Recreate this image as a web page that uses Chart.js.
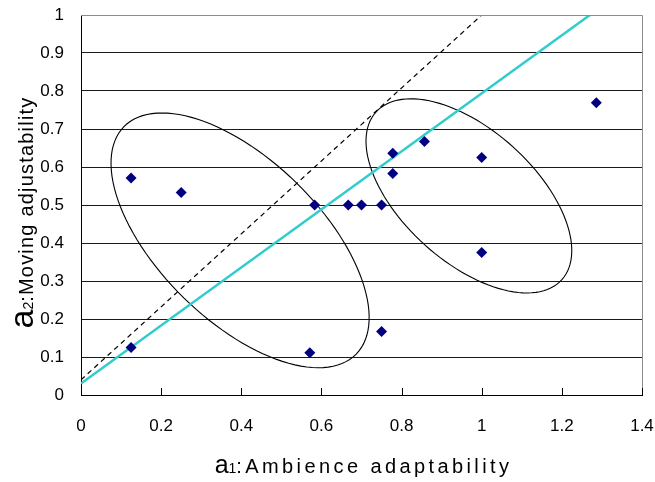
<!DOCTYPE html>
<html>
<head>
<meta charset="utf-8">
<script src="https://cdn.jsdelivr.net/npm/chart.js@4.4.1/dist/chart.umd.min.js"></script>
<style>
  html, body { margin: 0; padding: 0; background: #fff; }
</style>
</head>
<body>
<canvas id="chart" width="655" height="482"></canvas>
<script>
// ---- data ----
const ambienceX = [0.125, 0.25, 0.125, 0.571, 0.583, 0.667, 0.7, 0.75, 0.75, 0.778, 0.778, 0.857, 1.0, 1.0, 1.286];
const movingY   = [0.571, 0.533, 0.125, 0.111, 0.5, 0.5, 0.5, 0.5, 0.167, 0.636, 0.583, 0.667, 0.625, 0.375, 0.769];

const xTickValues = [0, 0.2, 0.4, 0.6, 0.8, 1, 1.2, 1.4];
const yTickValues = [0, 0.1, 0.2, 0.3, 0.4, 0.5, 0.6, 0.7, 0.8, 0.9, 1];

// regression line (cyan) and reference line (dashed), end points
const fitLineX = [0, 1.27];
const fitLineY = [0.03, 1.0];
const refLineX = [0, 1.0];
const refLineY = [0.04, 1.0];

// group ellipses: centre and two conjugate half-axes, all in data units
const groupCentreX = [0.397, 0.968];
const groupCentreY = [0.407, 0.524];
const groupMajorX  = [0.2898, 0.232];
const groupMajorY  = [-0.2992, -0.2205];
const groupMinorX  = [0.1406, 0.110];
const groupMinorY  = [0.1513, 0.129];

const toPoints = (xs, ys) => xs.map((x, i) => ({ x: x, y: ys[i] }));

// ellipses drawn under the data, through the chart's own scales
const ellipsePlugin = {
    id: 'groupEllipses',
    beforeDatasetsDraw(chart) {
        const { ctx, scales: { x, y } } = chart;
        ctx.save();
        ctx.strokeStyle = '#000';
        ctx.lineWidth = 1.1;
        for (let k = 0; k < groupCentreX.length; k++) {
            ctx.beginPath();
            for (let s = 0; s <= 120; s++) {
                const t = s / 120 * Math.PI * 2;
                const dx = groupCentreX[k] + groupMajorX[k] * Math.cos(t) + groupMinorX[k] * Math.sin(t);
                const dy = groupCentreY[k] + groupMajorY[k] * Math.cos(t) + groupMinorY[k] * Math.sin(t);
                const px = x.getPixelForValue(dx);
                const py = y.getPixelForValue(dy);
                if (s === 0) ctx.moveTo(px, py); else ctx.lineTo(px, py);
            }
            ctx.closePath();
            ctx.stroke();
        }
        ctx.restore();
    }
};

// frame, inner x tick marks and the two axis titles
const framePlugin = {
    id: 'frameAndTitles',
    afterDraw(chart) {
        const { ctx, chartArea: a, scales: { x } } = chart;
        ctx.save();

        // grey top / right frame
        ctx.strokeStyle = '#8c8c8c';
        ctx.lineWidth = 1;
        ctx.beginPath();
        ctx.moveTo(a.left, a.top + 0.5);
        ctx.lineTo(a.right + 0.5, a.top + 0.5);
        ctx.lineTo(a.right + 0.5, a.bottom);
        ctx.stroke();

        // x tick marks pointing into the plot
        ctx.strokeStyle = '#000';
        ctx.beginPath();
        xTickValues.forEach(v => {
            const px = Math.round(x.getPixelForValue(v)) + 0.5;
            ctx.moveTo(px, a.bottom);
            ctx.lineTo(px, a.bottom - 7);
        });
        ctx.stroke();

        ctx.fillStyle = '#000';
        ctx.textBaseline = 'alphabetic';
        ctx.textAlign = 'left';

        const drawParts = (parts, cx, baseY) => {
            let total = 0;
            parts.forEach(p => {
                ctx.font = p.size + 'px "Liberation Sans", Arial, sans-serif';
                ctx.letterSpacing = (p.spacing || 0) + 'px';
                p.w = ctx.measureText(p.text).width;
                total += p.w;
            });
            let cur = cx - total / 2;
            parts.forEach(p => {
                ctx.font = p.size + 'px "Liberation Sans", Arial, sans-serif';
                ctx.letterSpacing = (p.spacing || 0) + 'px';
                ctx.fillText(p.text, cur, baseY);
                cur += p.w;
            });
            ctx.letterSpacing = '0px';
        };

        // x title
        drawParts([
            { text: 'a', size: 25 },
            { text: '1', size: 14 },
            { text: ':Ambience adaptability', size: 20, spacing: 3.4 }
        ], 363.5, 473);

        // y title (rotated)
        ctx.save();
        ctx.translate(33, 212.5);
        ctx.rotate(-Math.PI / 2);
        drawParts([
            { text: 'a', size: 34 },
            { text: '2', size: 14 },
            { text: ':Moving adjustability', size: 20, spacing: 1.2 }
        ], 0, 0);
        ctx.restore();

        ctx.restore();
    }
};

const tickFont = { family: '"Liberation Sans", Arial, sans-serif', size: 17 };

new Chart(document.getElementById('chart'), {
    type: 'scatter',
    data: {
        datasets: [
            {
                label: 'samples',
                data: toPoints(ambienceX, movingY),
                pointStyle: 'rectRot',
                pointRadius: 5.5,
                pointBackgroundColor: '#000080',
                pointBorderColor: '#000080',
                pointBorderWidth: 0,
                showLine: false,
                order: 0
            },
            {
                label: 'fit',
                data: toPoints(fitLineX, fitLineY),
                showLine: true,
                borderColor: '#33CCCC',
                borderWidth: 2.5,
                pointRadius: 0,
                order: 1
            },
            {
                label: 'reference',
                data: toPoints(refLineX, refLineY),
                showLine: true,
                borderColor: '#000',
                borderWidth: 1.2,
                borderDash: [5, 4],
                pointRadius: 0,
                order: 2
            }
        ]
    },
    options: {
        responsive: false,
        animation: false,
        layout: { autoPadding: false, padding: { left: 0, right: 13, top: 15, bottom: 0 } },
        plugins: {
            legend: { display: false },
            tooltip: { enabled: false }
        },
        scales: {
            x: {
                type: 'linear',
                min: 0,
                max: 1.4,
                afterBuildTicks: s => { s.ticks = xTickValues.map(v => ({ value: v })); },
                afterFit: s => { s.height = 87; s.paddingLeft = 0; s.paddingRight = 0; },
                grid: { display: false, drawTicks: false },
                border: { display: true, color: '#000', width: 1 },
                ticks: {
                    color: '#000',
                    font: tickFont,
                    padding: 21,
                    maxRotation: 0,
                    callback: v => String(v)
                }
            },
            y: {
                type: 'linear',
                min: 0,
                max: 1,
                afterBuildTicks: s => { s.ticks = yTickValues.map(v => ({ value: v })); },
                afterFit: s => { s.width = 81; s.paddingTop = 0; s.paddingBottom = 0; },
                grid: {
                    display: true,
                    drawTicks: false,
                    color: c => (c.tick && c.tick.value === 1 ? '#8c8c8c' : '#1a1a1a'),
                    lineWidth: 1
                },
                border: { display: true, color: '#000', width: 1 },
                ticks: {
                    color: '#000',
                    font: tickFont,
                    padding: 17,
                    callback: v => String(v)
                }
            }
        }
    },
    plugins: [ellipsePlugin, framePlugin]
});
</script>
</body>
</html>
